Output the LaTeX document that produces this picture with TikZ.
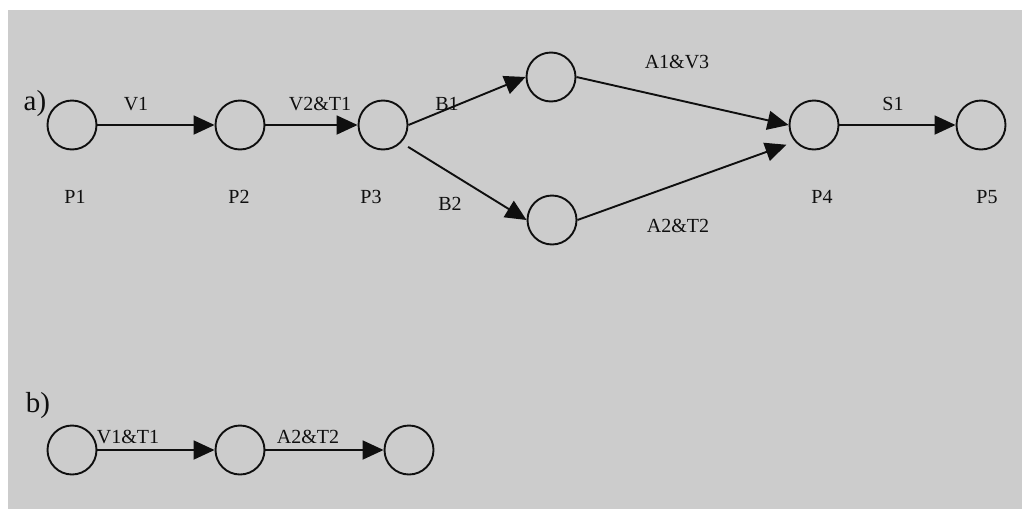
\documentclass[tikz,border=0pt]{standalone}
\usepackage{fontspec}
\setmainfont{Liberation Serif}
\usetikzlibrary{arrows.meta}
\definecolor{paper}{RGB}{204,204,204}
\definecolor{ink}{RGB}{15,15,15}
\begin{document}
\begin{tikzpicture}[x=1pt,y=-1pt,
  place/.style={circle,draw=ink,line width=1.9pt,minimum size=49pt,inner sep=0pt},
  flow/.style={draw=ink,line width=1.9pt,-{Triangle[length=21pt,width=19pt]}},
  lbl/.style={font=\fontsize{20}{21}\selectfont,text=ink,inner sep=0pt},
  part/.style={font=\fontsize{29}{30}\selectfont,text=ink,inner sep=0pt}]
\useasboundingbox (0,0) rectangle (1022,509);
\fill[white] (0,0) rectangle (1022,509);
\fill[paper] (8,10) rectangle (1022,509);

% net a)
\node[place] (p1) at (72,125) {};
\node[place] (p2) at (240,125) {};
\node[place] (p3) at (383,125) {};
\node[place] (q1) at (551,77) {};
\node[place] (q2) at (552,220) {};
\node[place] (p4) at (814,125) {};
\node[place] (p5) at (981,125) {};

\draw[flow] (p1) -- (p2);
\draw[flow] (p2) -- (p3);
\draw[flow] (p3.east) -- (q1.west);
\draw[flow,shorten <=8pt] (p3.-44) -- (q2.west);
\draw[flow] (q1.east) -- (p4.west);
\draw[flow,shorten >=9pt] (q2.east) -- (p4.221);
\draw[flow] (p4) -- (p5);

\node[part] (la) at (35,104) {a)};
\node[lbl] (v1) at (136,104) {V1};
\node[lbl] (v2t1) at (320,104) {V2\&T1};
\node[lbl] (b1) at (447,104) {B1};
\node[lbl] (b2) at (450,204) {B2};
\node[lbl] (a1v3) at (677,62) {A1\&V3};
\node[lbl] (a2t2) at (678,226) {A2\&T2};
\node[lbl] (s1) at (893,104) {S1};
\node[lbl] (n1) at (75,197) {P1};
\node[lbl] (n2) at (239,197) {P2};
\node[lbl] (n3) at (371,197) {P3};
\node[lbl] (n4) at (822,197) {P4};
\node[lbl] (n5) at (987,197) {P5};

% net b)
\node[part] (lb) at (38,406) {b)};
\node[place] (r1) at (72,450) {};
\node[place] (r2) at (240,450) {};
\node[place] (r3) at (409,450) {};
\draw[flow] (r1) -- (r2);
\draw[flow] (r2) -- (r3);
\node[lbl] (v1t1) at (128,437) {V1\&T1};
\node[lbl] (a2t2b) at (308,437) {A2\&T2};
\end{tikzpicture}
\end{document}
